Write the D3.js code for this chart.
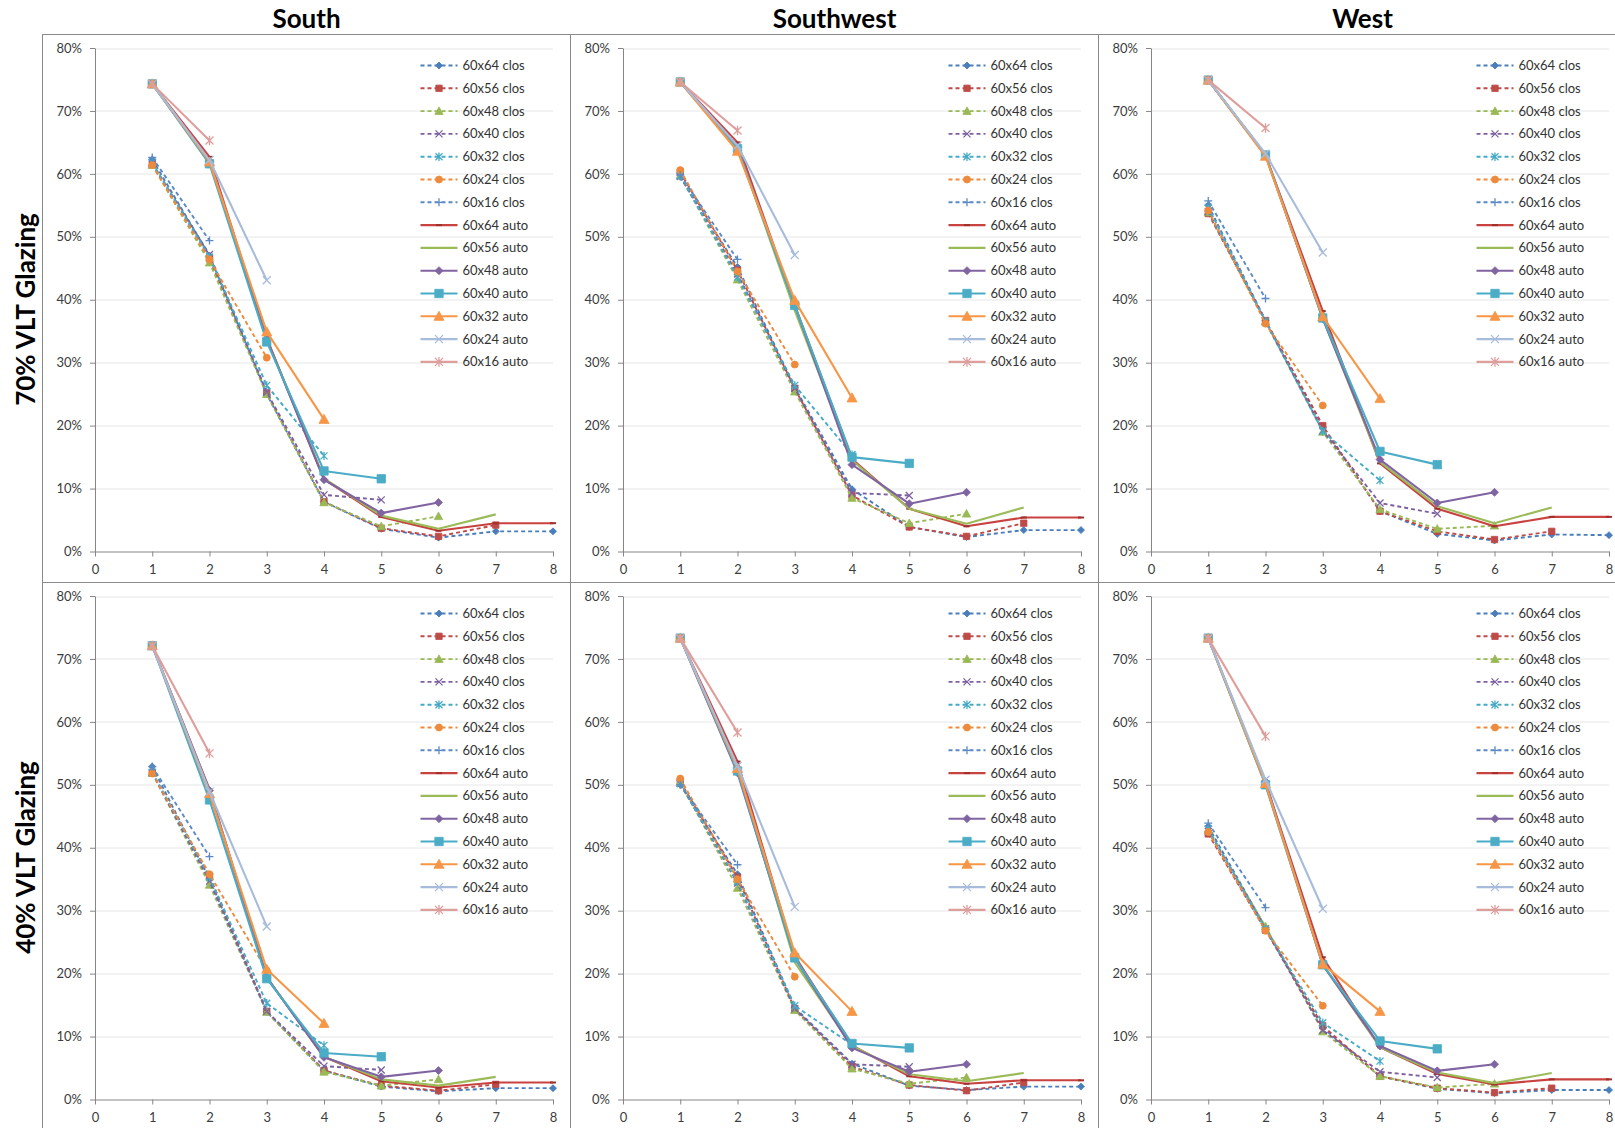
<!DOCTYPE html>
<html>
<head>
<meta charset="utf-8">
<script src="https://cdn.jsdelivr.net/npm/d3@7"></script>
<style>
  html, body { margin: 0; padding: 0; background: #fff; }
  svg { display: block; }
</style>
</head>
<body>
<svg id="chart" width="1615" height="1128"></svg>
<script>
// ---- data ---------------------------------------------------------------
const orientations = ["South", "Southwest", "West"];
const glazings = ["70% VLT Glazing", "40% VLT Glazing"];
const seriesNames = [
  "60x64 clos", "60x56 clos", "60x48 clos", "60x40 clos", "60x32 clos", "60x24 clos", "60x16 clos",
  "60x64 auto", "60x56 auto", "60x48 auto", "60x40 auto", "60x32 auto", "60x24 auto", "60x16 auto"
];
const xTickValues = [0, 1, 2, 3, 4, 5, 6, 7, 8];
const yTickValues = [0, 10, 20, 30, 40, 50, 60, 70, 80];

// values in %, first entry at x = 1
const south70 = [
  [62.3, 47.0, 25.0, 7.9, 3.6, 2.2, 3.2, 3.2],
  [61.5, 46.5, 25.2, 7.9, 3.7, 2.4, 4.2],
  [61.4, 45.9, 25.0, 7.8, 4.0, 5.6],
  [61.6, 47.2, 25.3, 9.0, 8.2],
  [61.8, 46.8, 26.4, 15.2],
  [61.4, 46.4, 30.8],
  [62.6, 49.4],
  [74.3, 62.7, 33.9, 11.5, 5.5, 3.3, 4.5, 4.5],
  [74.3, 61.9, 33.7, 11.6, 5.7, 3.6, 5.9],
  [74.3, 62.0, 33.8, 11.4, 6.1, 7.8],
  [74.3, 61.6, 33.3, 12.8, 11.55],
  [74.3, 61.9, 34.9, 21.0],
  [74.3, 62.2, 43.1],
  [74.3, 65.3]
];
const southwest70 = [
  [59.5, 45.2, 26.1, 9.9, 3.9, 2.3, 3.4, 3.4],
  [60.3, 44.7, 25.9, 8.9, 3.9, 2.4, 4.5],
  [59.7, 43.2, 25.4, 8.5, 4.5, 6.0],
  [59.6, 44.1, 25.9, 9.3, 8.9],
  [59.7, 43.6, 26.4, 15.4],
  [60.6, 44.5, 29.7],
  [59.8, 46.4],
  [74.6, 65.0, 39.1, 14.7, 6.8, 4.0, 5.4, 5.4],
  [74.6, 64.2, 38.3, 14.5, 6.8, 4.4, 7.0],
  [74.6, 64.2, 39.1, 13.8, 7.6, 9.4],
  [74.6, 64.0, 39.1, 15.0, 14.0],
  [74.6, 63.6, 39.9, 24.4],
  [74.6, 64.5, 47.1],
  [74.6, 66.9]
];
const west70 = [
  [55.0, 36.7, 19.8, 6.4, 2.8, 1.75, 2.7, 2.6],
  [53.7, 36.7, 20.0, 6.4, 3.2, 1.9, 3.2],
  [53.9, 36.5, 19.0, 6.7, 3.6, 4.1],
  [54.0, 36.6, 19.2, 7.7, 6.0],
  [54.7, 36.6, 19.1, 11.3],
  [54.2, 36.2, 23.2],
  [55.7, 40.2],
  [74.9, 63.0, 38.2, 14.0, 6.8, 4.0, 5.5, 5.5],
  [74.9, 63.0, 37.0, 14.2, 7.2, 4.5, 7.0],
  [74.9, 63.0, 37.0, 14.6, 7.7, 9.4],
  [74.9, 63.0, 37.1, 15.9, 13.8],
  [74.9, 62.8, 37.3, 24.3],
  [74.9, 63.2, 47.5],
  [74.9, 67.3]
];
const south40 = [
  [52.9, 35.0, 13.9, 4.6, 2.05, 1.3, 1.8, 1.8],
  [51.9, 35.5, 14.0, 4.6, 2.2, 1.4, 2.4],
  [51.9, 34.1, 13.9, 4.4, 2.2, 3.2],
  [51.9, 34.7, 14.0, 5.3, 4.7],
  [52.0, 35.3, 15.3, 8.6],
  [51.8, 35.8, 20.5],
  [52.9, 38.6],
  [72.1, 49.3, 19.4, 6.8, 2.9, 1.9, 2.7, 2.7],
  [72.1, 49.1, 19.4, 6.8, 3.2, 2.2, 3.6],
  [72.1, 49.1, 19.4, 6.7, 3.6, 4.6],
  [72.1, 47.6, 19.2, 7.4, 6.8],
  [72.1, 48.6, 20.7, 12.1],
  [72.1, 48.9, 27.5],
  [72.1, 55.0]
];
const southwest40 = [
  [50.0, 35.8, 14.6, 5.7, 2.2, 1.5, 2.05, 2.05],
  [50.5, 35.3, 14.4, 5.2, 2.3, 1.4, 2.7],
  [50.4, 33.6, 14.2, 4.9, 2.5, 3.5],
  [50.2, 34.4, 14.4, 5.6, 5.2],
  [50.2, 34.6, 14.9, 8.7],
  [51.0, 35.0, 19.5],
  [50.0, 37.3],
  [73.3, 53.7, 22.8, 8.6, 3.7, 2.5, 3.05, 3.05],
  [73.3, 52.6, 21.8, 8.5, 4.0, 2.9, 4.2],
  [73.3, 51.9, 22.5, 8.2, 4.4, 5.6],
  [73.3, 52.2, 22.5, 8.9, 8.2],
  [73.3, 52.6, 23.3, 14.0],
  [73.3, 53.0, 30.6],
  [73.3, 58.3]
];
const west40 = [
  [43.4, 27.3, 11.4, 3.7, 1.7, 1.0, 1.5, 1.5],
  [42.2, 26.9, 11.7, 3.7, 1.8, 1.1, 1.8],
  [42.8, 27.5, 10.8, 3.7, 1.9, 2.5],
  [42.6, 27.1, 11.0, 4.4, 3.5],
  [43.0, 27.1, 12.2, 6.1],
  [42.5, 26.8, 14.9],
  [43.9, 30.5],
  [73.3, 50.4, 22.6, 8.3, 4.05, 2.4, 3.2, 3.2],
  [73.3, 50.0, 21.4, 8.3, 4.3, 2.6, 4.2],
  [73.3, 50.5, 21.4, 8.5, 4.55, 5.6],
  [73.3, 50.0, 21.4, 9.3, 8.05],
  [73.3, 50.2, 21.5, 14.0],
  [73.3, 50.8, 30.3],
  [73.3, 57.7]
];
const panelValues = [
  [south70, southwest70, west70],
  [south40, southwest40, west40]
];

// ---- series styling -------------------------------------------------------
const seriesColors = [
  "#4A7EBB", "#BE4B48", "#98B954", "#7D60A0", "#46AAC5", "#EE8A3C", "#5C8AC4",
  "#C8423F", "#9BBB59", "#8064A2", "#4BACC6", "#F79646", "#A7BCDB", "#DE9E9C"
];
const seriesDashed = [true, true, true, true, true, true, true,
                      false, false, false, false, false, false, false];
const seriesMarkers = ["diamond", "square", "triangle", "cross", "star", "circle", "plus",
                       "dash", "none", "diamond", "square", "triangle", "cross", "star"];
const markerSizes = [3.5, 3.2, 3.8, 3.5, 3.5, 3.5, 4,
                     3, 0, 4, 4.2, 4.6, 4, 4];

// ---- layout ---------------------------------------------------------------
const W = 1615, H = 1128;
const colX = [42.5, 570.5, 1098.5];
const rowY = [34.5, 582.5];
const cellW = 528, cellH = 548;
const plotBox = { left: 52.5, right: 510.5, top: 13.5, bottom: 517 };
const axisGray = "#868686";
const font = "Lato, 'Open Sans', sans-serif";

const svg = d3.select("#chart");
svg.append("rect").attr("width", W).attr("height", H).attr("fill", "#fff");

// column titles
orientations.forEach((name, c) => {
  svg.append("text")
    .attr("x", colX[c] + cellW / 2)
    .attr("y", 27.5)
    .attr("text-anchor", "middle")
    .attr("font-family", font)
    .attr("font-size", 26)
    .attr("font-weight", 700)
    .attr("fill", "#000")
    .text(name);
});

// row titles
glazings.forEach((label, r) => {
  svg.append("text")
    .attr("transform", `translate(35,${rowY[r] + 275}) rotate(-90)`)
    .attr("text-anchor", "middle")
    .attr("font-family", font)
    .attr("font-size", 26)
    .attr("font-weight", 700)
    .attr("fill", "#000")
    .text(label);
});

function markerPath(type, s) {
  switch (type) {
    case "diamond": return `M0,${-s}L${s},0L0,${s}L${-s},0Z`;
    case "square": return `M${-s},${-s}H${s}V${s}H${-s}Z`;
    case "triangle": { const h = s * 1.1; return `M0,${-h}L${s * 1.1},${h * 0.8}L${-s * 1.1},${h * 0.8}Z`; }
    case "cross": return `M${-s},${-s}L${s},${s}M${-s},${s}L${s},${-s}`;
    case "star": return `M${-s},${-s}L${s},${s}M${-s},${s}L${s},${-s}M0,${-s * 1.2}V${s * 1.2}`;
    case "plus": return `M${-s},0H${s}M0,${-s}V${s}`;
    case "dash": return `M${-s},-1H${s}V1H${-s}Z`;
    default: return "";
  }
}
const filledMarkers = new Set(["diamond", "square", "triangle", "dash"]);

function drawMarker(sel, i) {
  const type = seriesMarkers[i];
  const color = seriesColors[i];
  if (type === "none") return;
  if (type === "circle") {
    sel.append("circle").attr("r", markerSizes[i]).attr("fill", color).attr("stroke", color).attr("stroke-width", 0.8);
    return;
  }
  const p = sel.append("path").attr("d", markerPath(type, markerSizes[i]));
  if (filledMarkers.has(type)) {
    p.attr("fill", type === "dash" ? "#9E302D" : color).attr("stroke", type === "dash" ? "none" : color).attr("stroke-width", 0.8);
  } else {
    p.attr("fill", "none").attr("stroke", color).attr("stroke-width", 1.3);
  }
}

panelValues.forEach((rowPanels, r) => {
  rowPanels.forEach((values, c) => {
    const g = svg.append("g").attr("transform", `translate(${colX[c]},${rowY[r]})`);

    // panel frame
    g.append("rect")
      .attr("width", cellW).attr("height", cellH)
      .attr("fill", "none").attr("stroke", "#8a8a8a").attr("stroke-width", 1);

    const x = d3.scaleLinear().domain([0, 8]).range([plotBox.left, plotBox.right]);
    const y = d3.scaleLinear().domain([0, 80]).range([plotBox.bottom, plotBox.top]);

    // horizontal gridlines
    g.append("g").selectAll("line")
      .data(yTickValues.filter(v => v > 0))
      .join("line")
      .attr("x1", plotBox.left).attr("x2", plotBox.right)
      .attr("y1", d => Math.round(y(d)) + 0.5).attr("y2", d => Math.round(y(d)) + 0.5)
      .attr("stroke", "#e6e6e6").attr("stroke-width", 1);

    // axes
    const yAxis = g.append("g")
      .attr("transform", `translate(${plotBox.left},0)`)
      .call(d3.axisLeft(y).tickValues(yTickValues).tickFormat(d => d + "%")
        .tickSize(5).tickSizeOuter(0).tickPadding(8));
    const xAxis = g.append("g")
      .attr("transform", `translate(0,${plotBox.bottom})`)
      .call(d3.axisBottom(x).tickValues(xTickValues).tickFormat(d3.format("d"))
        .tickSize(5).tickSizeOuter(0).tickPadding(8));
    [yAxis, xAxis].forEach(a => {
      a.attr("font-family", font).attr("font-size", 13);
      a.select(".domain").attr("stroke", axisGray);
      a.selectAll(".tick line").attr("stroke", axisGray);
      a.selectAll(".tick text").attr("fill", "#3c3c3c");
    });

    // series lines and markers
    const line = d3.line().x((d, k) => x(k + 1)).y(d => y(d));
    values.forEach((vals, i) => {
      const sg = g.append("g");
      sg.append("path")
        .attr("d", line(vals))
        .attr("fill", "none")
        .attr("stroke", seriesColors[i])
        .attr("stroke-width", seriesDashed[i] ? 1.9 : 2.1)
        .attr("stroke-dasharray", seriesDashed[i] ? "4,3" : null)
        .attr("stroke-linejoin", "round");
      vals.forEach((v, k) => {
        const m = sg.append("g").attr("transform", `translate(${x(k + 1)},${y(v)})`);
        drawMarker(m, i);
      });
    });

    // legend
    const lg = g.append("g").attr("transform", "translate(378,31)");
    seriesNames.forEach((name, i) => {
      const row = lg.append("g").attr("transform", `translate(0,${i * 22.8})`);
      row.append("line")
        .attr("x1", 0).attr("x2", 37).attr("y1", 0).attr("y2", 0)
        .attr("stroke", seriesColors[i])
        .attr("stroke-width", seriesDashed[i] ? 1.9 : 2.1)
        .attr("stroke-dasharray", seriesDashed[i] ? "4,3" : null);
      const m = row.append("g").attr("transform", "translate(18.5,0)");
      drawMarker(m, i);
      row.append("text")
        .attr("x", 42).attr("y", 0).attr("dy", "0.35em")
        .attr("font-family", font).attr("font-size", 13)
        .attr("fill", "#333")
        .text(name);
    });
  });
});
</script>
</body>
</html>
